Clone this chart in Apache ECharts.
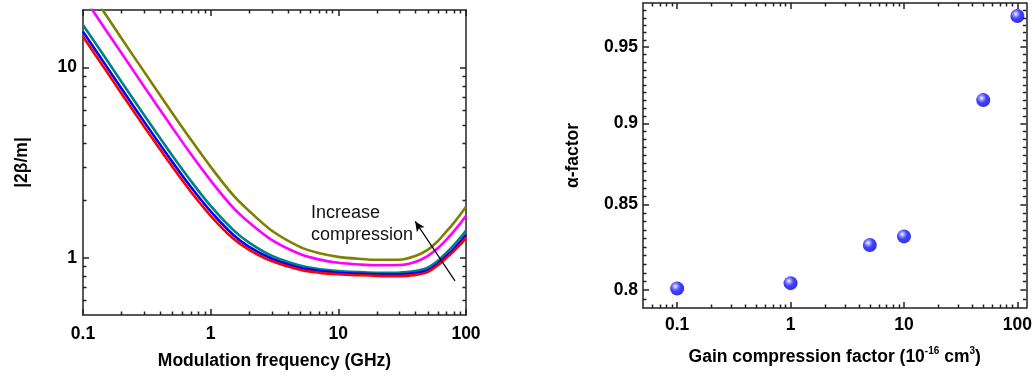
<!DOCTYPE html>
<html>
<head>
<meta charset="utf-8">
<script src="https://cdn.jsdelivr.net/npm/echarts@6/dist/echarts.min.js"></script>
<style>
html,body{margin:0;padding:0;background:#fff;}
#chart{width:1035px;height:376px;}
</style>
</head>
<body>
<div id="chart"></div>
<script>
// ---------- data ----------
const freq = [0.1,0.15,0.2,0.3,0.5,0.7,1,1.5,2,3,5,7,10,15,20,30,40,50,60,70,80,90,100];
const cprRed     = [14.5,9.70,7.29,4.90,3.01,2.22,1.66,1.26,1.10,0.96,0.865,0.835,0.818,0.808,0.803,0.80,0.812,0.84,0.91,0.995,1.08,1.17,1.27];
const cprBlue    = [15.4,10.3,7.74,5.20,3.19,2.35,1.75,1.32,1.14,0.99,0.885,0.853,0.834,0.823,0.818,0.818,0.83,0.86,0.93,1.02,1.11,1.21,1.32];
const cprTeal    = [16.7,11.2,8.39,5.63,3.44,2.53,1.87,1.40,1.20,1.025,0.91,0.873,0.852,0.84,0.834,0.835,0.85,0.885,0.96,1.06,1.16,1.27,1.39];
const cprMagenta = [23.7,15.8,11.9,7.95,4.83,3.50,2.54,1.83,1.53,1.24,1.045,0.98,0.94,0.92,0.913,0.915,0.95,1.02,1.12,1.24,1.37,1.51,1.66];
const cprOlive   = [28.4,19.0,14.2,9.52,5.76,4.17,3.00,2.13,1.76,1.39,1.14,1.058,1.01,0.985,0.975,0.975,1.02,1.10,1.22,1.37,1.52,1.68,1.85];

const gainCompression = [0.1,1,5,10,50,100];
const alphaFactor     = [0.801,0.804,0.826,0.831,0.915,0.971];

const leftXTicks  = [0.1,1,10,100];
const leftYTicks  = [1,10];
const rightXTicks = [0.1,1,10,100];
const rightYTicks = [0.8,0.85,0.9,0.95];

// minor tick positions
const leftXMinor  = [0.2,0.3,0.4,0.5,0.6,0.7,0.8,0.9,2,3,4,5,6,7,8,9,20,30,40,50,60,70,80,90];
const leftYMinor  = [0.6,0.7,0.8,0.9,2,3,4,5,6,7,8,9];
const rightXMinor = [0.06,0.07,0.08,0.09,0.2,0.3,0.4,0.5,0.6,0.7,0.8,0.9,2,3,4,5,6,7,8,9,20,30,40,50,60,70,80,90];
const rightYMinor = [0.795,0.805,0.81,0.815,0.82,0.825,0.83,0.835,0.84,0.845,0.855,0.86,0.865,0.87,0.875,0.88,0.885,0.89,0.895,
                     0.905,0.91,0.915,0.92,0.925,0.93,0.935,0.94,0.945,0.955,0.96,0.965,0.97,0.975];

const FONT = '"Liberation Sans", Arial, sans-serif';
const fmt = v => String(parseFloat((+v).toPrecision(6)));

function ax(gi, pos, ticks, len, range){
  return {gridIndex:gi, position:pos, type:'log', logBase:10, min:range[0], max:range[1],
    splitLine:{show:false},
    axisLine:{show:true, lineStyle:{color:'#222', width:1.5}},
    axisTick:{show:true, inside:true, length:len, lineStyle:{color:'#222', width:1.5}, customValues:ticks},
    axisLabel:{show:false, customValues:ticks}};
}
function withLabels(axis, labels, margin, name, nameGap, nameExtra){
  axis.axisLabel = {show:true, customValues:labels, formatter:fmt, margin:margin,
    fontFamily:FONT, fontWeight:'bold', fontSize:17.5, color:'#000'};
  axis.name = name; axis.nameLocation = 'middle'; axis.nameGap = nameGap;
  axis.nameTextStyle = Object.assign({fontFamily:FONT, fontWeight:'bold', fontSize:17.5, color:'#000'}, nameExtra||{});
  return axis;
}

const LX=[0.1,100], LY=[0.5,20], RX=[0.05,120], RY=[0.79,0.98];

const grids = [
  {left:83, top:10, width:383, height:305},
  {left:643, top:3, width:384, height:305}
];

const xAxes = [
  withLabels(ax(0,'bottom',leftXTicks,6,LX), leftXTicks, 10, 'Modulation frequency (GHz)', 37),
  ax(0,'top',leftXTicks,6,LX),
  withLabels(ax(1,'bottom',rightXTicks,6,RX), rightXTicks, 8, 'Gain compression factor (10{sup|-16} cm{sup|3})', 38,
    {lineHeight:22, rich:{sup:{fontFamily:FONT, fontWeight:'bold', fontSize:10, color:'#000', verticalAlign:'top', lineHeight:22}}}),
  ax(1,'top',rightXTicks,6,RX)
];
const yAxes = [
  withLabels(ax(0,'left',leftYTicks,6,LY), leftYTicks, 6, '|2β/m|', 52),
  ax(0,'right',leftYTicks,6,LY),
  withLabels(ax(1,'left',rightYTicks,6,RY), rightYTicks, 5, 'α-factor', 61),
  ax(1,'right',rightYTicks,6,RY)
];

function curve(name, vals, color){
  return {
    name, type:'line', xAxisIndex:0, yAxisIndex:0,
    data: freq.map((f,i)=>[f, vals[i]]),
    showSymbol:false, smooth:0.3, clip:true,
    lineStyle:{color, width:2.6}, itemStyle:{color},
    silent:true, animation:false
  };
}

// minor ticks drawn through the axes' own scales (api.coord), on all four sides
function minorTicks(xi, yi, values, fixedOther, isX, len){
  return {
    type:'custom', xAxisIndex:xi, yAxisIndex:yi, silent:true, animation:false, clip:false, z:5,
    data: values.map(v => isX ? [v, fixedOther] : [fixedOther, v]),
    encode: {x:0, y:1},
    renderItem: function(params, api){
      const cs = params.coordSys;
      const p = api.coord([api.value(0), api.value(1)]);
      const st = {stroke:'#222', lineWidth:1.5};
      if (isX) {
        const x = Math.round(p[0]) + 0.5;
        return {type:'group', children:[
          {type:'line', shape:{x1:x, y1:cs.y+cs.height, x2:x, y2:cs.y+cs.height-len}, style:st},
          {type:'line', shape:{x1:x, y1:cs.y, x2:x, y2:cs.y+len}, style:st}
        ]};
      } else {
        const y = Math.round(p[1]) + 0.5;
        return {type:'group', children:[
          {type:'line', shape:{x1:cs.x, y1:y, x2:cs.x+len, y2:y}, style:st},
          {type:'line', shape:{x1:cs.x+cs.width, y1:y, x2:cs.x+cs.width-len, y2:y}, style:st}
        ]};
      }
    }
  };
}

const series = [
  curve('olive', cprOlive, '#808000'),
  curve('magenta', cprMagenta, '#ff00ff'),
  curve('teal', cprTeal, '#008080'),
  curve('blue', cprBlue, '#0000ff'),
  Object.assign(curve('red', cprRed, '#ff0000'), {
    markLine:{
      silent:true, animation:false,
      symbol:['none','arrow'], symbolSize:[7,10],
      label:{show:false},
      lineStyle:{color:'#000', width:1.2, type:'solid'},
      data:[[{coord:[82,0.755]},{coord:[40,1.55]}]]
    }
  }),
  {
    type:'scatter', xAxisIndex:2, yAxisIndex:2,
    data: gainCompression.map((g,i)=>[g, alphaFactor[i]]),
    symbol:'circle', symbolSize:14, animation:false,
    itemStyle:{
      color:{type:'radial', x:0.38, y:0.35, r:0.7,
        colorStops:[{offset:0,color:'#ffffff'},{offset:0.22,color:'#7f7fff'},{offset:0.5,color:'#1010ff'},{offset:1,color:'#0000c0'}]}
    }
  },
  minorTicks(0, 0, leftXMinor, LY[0], true, 3.5),
  minorTicks(0, 0, leftYMinor, LX[0], false, 3.5),
  minorTicks(2, 2, rightXMinor, RY[0], true, 3.5),
  minorTicks(2, 2, rightYMinor, RX[0], false, 3.5)
];

const chart = echarts.init(document.getElementById('chart'));
chart.setOption({
  animation:false,
  grid: grids,
  xAxis: xAxes,
  yAxis: yAxes,
  series: series,
  graphic:[{
    type:'text', left:311, top:202, silent:true,
    style:{text:'Increase\ncompression', fontFamily:FONT, fontSize:18, lineHeight:22, fill:'#111'}
  }]
});
</script>
</body>
</html>
